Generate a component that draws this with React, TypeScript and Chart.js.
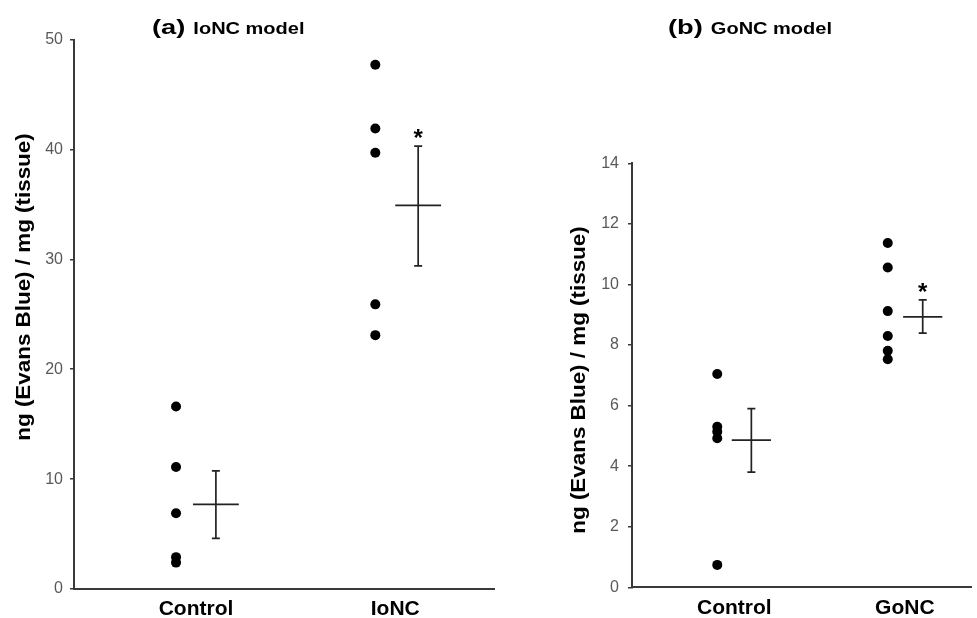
import React, { useEffect, useRef } from 'react';
import { Chart, registerables } from 'chart.js';

Chart.register(...registerables);

// ---------- Panel (a): IoNC model ----------
const categoriesA = ['Control', 'IoNC'];
const controlPointsA = [16.6, 11.1, 6.9, 2.9, 2.4];
const ioncPointsA = [47.7, 41.9, 39.7, 25.9, 23.1];
const meansA = [7.7, 34.9];
const upperA = [10.75, 40.3];
const lowerA = [4.6, 29.4];
const significantA = [false, true];
const yTicksA = [0, 10, 20, 30, 40, 50];

// ---------- Panel (b): GoNC model ----------
const categoriesB = ['Control', 'GoNC'];
const controlPointsB = [7.04, 5.3, 5.14, 4.92, 0.74];
const goncPointsB = [11.37, 10.56, 9.12, 8.3, 7.81, 7.53];
const meansB = [4.86, 8.93];
const upperB = [5.9, 9.49];
const lowerB = [3.8, 8.39];
const significantB = [false, true];
const yTicksB = [0, 2, 4, 6, 8, 10, 12, 14];

const AXIS_TITLE = 'ng (Evans Blue) / mg (tissue)';

const LINE = '#222222';
const AXIS = '#3a3a3a';
const DOT_OFFSET = -0.1;
const MEAN_HALF = 0.115;
const LETTER_STRETCH = 1.3;
const TITLE_STRETCH = 1.25;
const AXIS_TITLE_STRETCH = 1.12;

interface PanelCfg {
  width: number;
  height: number;
  left: number;
  letter: string;
  titleText: string;
  titleX: number;
  titleBaseline: number;
  categories: string[];
  groups: number[][];
  means: number[];
  upper: number[];
  lower: number[];
  significant: boolean[];
  yTicks: number[];
  xMin: number;
  xMax: number;
  barOffsets: number[];
  yAxisWidth: number;
  xAxisHeight: number;
  padTop: number;
  padRight: number;
  axisTitleX: number;
  axisTitleY: number;
  tickPadding: number;
}

const panelA: PanelCfg = {
  width: 500,
  height: 618,
  left: 0,
  letter: '(a)',
  titleText: 'IoNC model',
  titleX: 152,
  titleBaseline: 34,
  categories: categoriesA,
  groups: [controlPointsA, ioncPointsA],
  means: meansA,
  upper: upperA,
  lower: lowerA,
  significant: significantA,
  yTicks: yTicksA,
  xMin: 0.388,
  xMax: 2.497,
  barOffsets: [0.1, 0.115],
  yAxisWidth: 74,
  xAxisHeight: 29,
  padTop: 39.5,
  padRight: -2,
  axisTitleX: 24,
  axisTitleY: 287,
  tickPadding: 7,
};

const panelB: PanelCfg = {
  width: 477,
  height: 618,
  left: 500,
  letter: '(b)',
  titleText: 'GoNC model',
  titleX: 168,
  titleBaseline: 34,
  categories: categoriesB,
  groups: [controlPointsB, goncPointsB],
  means: meansB,
  upper: upperB,
  lower: lowerB,
  significant: significantB,
  yTicks: yTicksB,
  xMin: 0.4,
  xMax: 2.39,
  barOffsets: [0.1, 0.105],
  yAxisWidth: 132,
  xAxisHeight: 30.7,
  padTop: 163.3,
  padRight: -4,
  axisTitleX: 79,
  axisTitleY: 380,
  tickPadding: 9,
};

function makeTextPlugin(cfg: PanelCfg) {
  return {
    id: 'panelText' + cfg.letter,
    afterDraw(chart: any) {
      const ctx: CanvasRenderingContext2D = chart.ctx;
      // Title: letter part
      ctx.save();
      ctx.fillStyle = '#000';
      ctx.textBaseline = 'alphabetic';
      ctx.textAlign = 'left';
      ctx.translate(cfg.titleX, cfg.titleBaseline);
      ctx.scale(LETTER_STRETCH, 1);
      ctx.font = 'bold 21px "Liberation Sans", Arial, sans-serif';
      ctx.fillText(cfg.letter, 0, 0);
      const w = ctx.measureText(cfg.letter).width * LETTER_STRETCH;
      ctx.restore();
      // Title: text part
      ctx.save();
      ctx.fillStyle = '#000';
      ctx.textBaseline = 'alphabetic';
      ctx.textAlign = 'left';
      ctx.translate(cfg.titleX + w + 8, cfg.titleBaseline);
      ctx.scale(TITLE_STRETCH, 1);
      ctx.font = 'bold 16px "Liberation Sans", Arial, sans-serif';
      ctx.fillText(cfg.titleText, 0, 0);
      ctx.restore();

      // Y axis title
      ctx.save();
      ctx.fillStyle = '#000';
      ctx.translate(cfg.axisTitleX, cfg.axisTitleY);
      ctx.rotate(-Math.PI / 2);
      ctx.scale(AXIS_TITLE_STRETCH, 1);
      ctx.textAlign = 'center';
      ctx.textBaseline = 'middle';
      ctx.font = 'bold 20px "Liberation Sans", Arial, sans-serif';
      ctx.fillText(AXIS_TITLE, 0, 0);
      ctx.restore();

      // Significance asterisks
      const xs = chart.scales.x;
      const ys = chart.scales.y;
      ctx.save();
      ctx.fillStyle = '#000';
      ctx.textAlign = 'center';
      ctx.textBaseline = 'alphabetic';
      ctx.font = 'bold 24px "Liberation Sans", Arial, sans-serif';
      cfg.significant.forEach((sig, i) => {
        if (!sig) return;
        const px = xs.getPixelForValue(i + 1 + cfg.barOffsets[i]);
        const py = ys.getPixelForValue(cfg.upper[i]);
        ctx.fillText('*', px, py);
      });
      ctx.restore();
    },
  };
}

function buildDatasets(cfg: PanelCfg) {
  const ds: any[] = [];
  cfg.groups.forEach((vals, i) => {
    const c = i + 1;
    ds.push({
      data: vals.map((v) => ({ x: c + DOT_OFFSET, y: v })),
      showLine: false,
      pointRadius: 5,
      pointBackgroundColor: '#000',
      pointBorderColor: '#000',
      pointBorderWidth: 0,
    });
    const bx = c + cfg.barOffsets[i];
    ds.push({
      data: [
        { x: bx, y: cfg.lower[i] },
        { x: bx, y: cfg.upper[i] },
      ],
      showLine: true,
      borderColor: LINE,
      borderWidth: 1.7,
      pointStyle: 'line',
      pointRadius: 4,
      pointBorderColor: LINE,
      pointBorderWidth: 1.7,
    });
    ds.push({
      data: [
        { x: bx - MEAN_HALF, y: cfg.means[i] },
        { x: bx + MEAN_HALF, y: cfg.means[i] },
      ],
      showLine: true,
      borderColor: LINE,
      borderWidth: 1.7,
      pointRadius: 0,
    });
  });
  return ds;
}

function Panel({ cfg }: { cfg: PanelCfg }) {
  const ref = useRef<HTMLCanvasElement | null>(null);
  useEffect(() => {
    if (!ref.current) return;
    const chart = new Chart(ref.current, {
      type: 'scatter',
      data: { datasets: buildDatasets(cfg) },
      options: {
        animation: false,
        responsive: false,
        maintainAspectRatio: false,
        layout: { padding: { top: cfg.padTop, right: cfg.padRight, left: 0, bottom: 0 } },
        plugins: {
          legend: { display: false },
          tooltip: { enabled: false },
          title: { display: false },
        },
        scales: {
          x: {
            type: 'linear',
            min: cfg.xMin,
            max: cfg.xMax,
            afterBuildTicks: (s: any) => {
              s.ticks = cfg.categories.map((_, i) => ({ value: i + 1 }));
            },
            afterFit: (s: any) => {
              s.height = cfg.xAxisHeight;
              s.paddingLeft = 0;
              s.paddingRight = 0;
            },
            grid: { display: false, drawTicks: false },
            border: { display: true, color: AXIS, width: 2 },
            ticks: {
              color: '#000',
              font: { family: '"Liberation Sans", Arial, sans-serif', size: 21, weight: 'bold' },
              padding: 8,
              maxRotation: 0,
              autoSkip: false,
              callback: (v: any) => cfg.categories[Math.round(Number(v)) - 1] ?? '',
            },
          },
          y: {
            type: 'linear',
            min: cfg.yTicks[0],
            max: cfg.yTicks[cfg.yTicks.length - 1],
            afterBuildTicks: (s: any) => {
              s.ticks = cfg.yTicks.map((v) => ({ value: v }));
            },
            afterFit: (s: any) => {
              s.width = cfg.yAxisWidth;
            },
            grid: {
              drawOnChartArea: false,
              drawTicks: true,
              tickLength: 4,
              color: AXIS,
              lineWidth: 1.5,
            },
            border: { display: true, color: AXIS, width: 2 },
            ticks: {
              color: '#595959',
              font: { family: '"Liberation Sans", Arial, sans-serif', size: 16 },
              padding: cfg.tickPadding,
            },
          },
        },
      } as any,
      plugins: [makeTextPlugin(cfg)],
    });
    return () => chart.destroy();
  }, [cfg]);
  return (
    <canvas
      ref={ref}
      width={cfg.width}
      height={cfg.height}
      style={{ position: 'absolute', left: cfg.left, top: 0, width: cfg.width, height: cfg.height }}
    />
  );
}

export default function App() {
  return (
    <div
      style={{
        position: 'fixed',
        left: 0,
        top: 0,
        width: 977,
        height: 618,
        background: '#fff',
        overflow: 'hidden',
      }}
    >
      <Panel cfg={panelA} />
      <Panel cfg={panelB} />
    </div>
  );
}
